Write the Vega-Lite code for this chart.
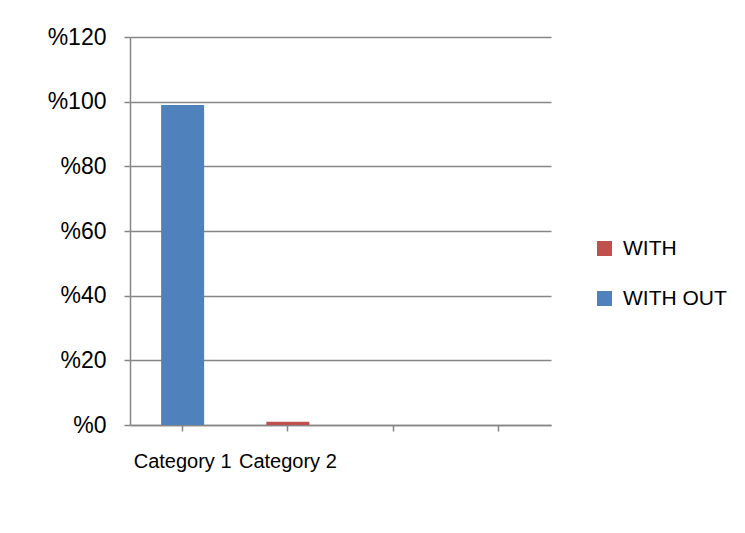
{
  "$schema": "https://vega.github.io/schema/vega-lite/v6.json",
  "width": 421,
  "height": 388,
  "autosize": {"type": "none"},
  "padding": {"left": 130, "top": 37, "right": 194, "bottom": 108},
  "background": "white",
  "config": {
    "view": {"stroke": null},
    "font": "Liberation Sans"
  },
  "data": {
    "values": [
      {"category": "Category 1", "series": "WITH OUT", "value": 99},
      {"category": "Category 2", "series": "WITH", "value": 1}
    ]
  },
  "mark": {"type": "bar", "size": 43},
  "encoding": {
    "x": {
      "field": "category",
      "type": "nominal",
      "scale": {"domain": ["Category 1", "Category 2", "3", "4"], "paddingInner": 0, "paddingOuter": 0},
      "axis": {
        "title": null,
        "labelAngle": 0,
        "labelExpr": "indexof(datum.value, 'Category') == 0 ? datum.value : ''",
        "labelFontSize": 20,
        "labelColor": "black",
        "labelPadding": 20,
        "tickSize": 6,
        "tickColor": "#868686",
        "tickWidth": 1.5,
        "domainColor": "#868686",
        "domainWidth": 1.5,
        "grid": false
      }
    },
    "y": {
      "field": "value",
      "type": "quantitative",
      "scale": {"domain": [0, 120], "nice": false},
      "axis": {
        "title": null,
        "values": [0, 20, 40, 60, 80, 100, 120],
        "labelExpr": "'%' + datum.value",
        "labelFontSize": 23,
        "labelColor": "black",
        "labelPadding": 18,
        "tickSize": 6,
        "tickColor": "#868686",
        "tickWidth": 1.5,
        "domainColor": "#868686",
        "domainWidth": 1.5,
        "grid": true,
        "gridColor": "#868686",
        "gridWidth": 1.5
      }
    },
    "color": {
      "field": "series",
      "type": "nominal",
      "scale": {"domain": ["WITH", "WITH OUT"], "range": ["#C0504D", "#4F81BD"]},
      "legend": {
        "title": null,
        "orient": "none",
        "legendX": 464,
        "legendY": 201,
        "symbolType": "square",
        "symbolSize": 225,
        "symbolOpacity": 1,
        "labelFontSize": 21,
        "labelColor": "black",
        "labelOffset": 8,
        "rowPadding": 28
      }
    }
  }
}
